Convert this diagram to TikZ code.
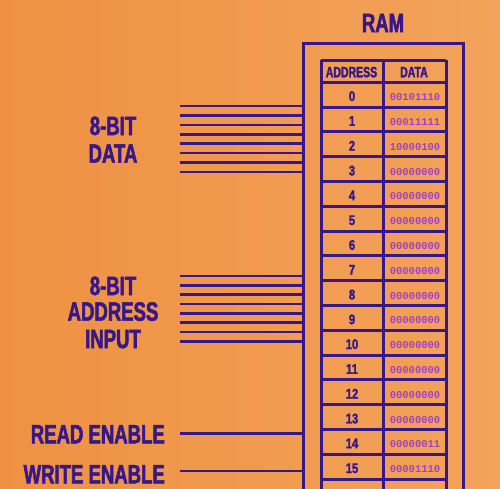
\documentclass[tikz,border=0pt]{standalone}
\usepackage{fontspec}
\setmainfont{Liberation Sans}
\newfontfamily\labelfont[FakeStretch=0.7,FakeBold=2]{Liberation Sans Bold}
\newfontfamily\numfont[FakeStretch=0.8,FakeBold=1.6]{Liberation Sans Bold}
\newfontfamily\bitfont{Liberation Mono Bold}
\definecolor{ink}{HTML}{36188A}
\definecolor{bits}{HTML}{A23FCB}
\definecolor{bgL}{HTML}{EE9142}
\definecolor{bgR}{HTML}{F3A35B}
\begin{document}
\begin{tikzpicture}[x=1pt,y=-1pt,
  big/.style={font=\labelfont\fontsize{26.5}{27}\selectfont, text=ink, inner sep=0pt, anchor=base},
  head/.style={font=\labelfont\fontsize{15}{16}\selectfont, text=ink, inner sep=0pt, anchor=base},
  num/.style={font=\numfont\fontsize{14}{15}\selectfont, text=ink, inner sep=0pt, anchor=base},
  val/.style={font=\bitfont\fontsize{10.5}{11}\selectfont, text=bits, inner sep=0pt, anchor=base},
  box/.style={draw=ink, line width=3.2pt},
  tab/.style={draw=ink, line width=3pt},
  sig/.style={draw=ink, line width=2.6pt}]
\useasboundingbox (0,0) rectangle (500,488);
\clip (0,0) rectangle (500,488);
\shade[left color=bgL,right color=bgR] (0,0) rectangle (500,488);
% title
\node[big] (title) at (383,32) {RAM};
% outer RAM box
\coordinate (ramL) at (303.5,43.5);
\coordinate (ramR) at (463.5,43.5);
\draw[box] (303.5,495) -- (ramL) -- (ramR) -- (463.5,495);
% table
\draw[tab] (321,60) -- (446,60);
\foreach \k in {0,...,16} {
  \draw[tab] (321,{82.3+24.8*\k}) -- (446,{82.3+24.8*\k});
}
\foreach \x in {321,383.5,446} {
  \draw[tab] (\x,60) -- (\x,495);
}
\node[head] (hA) at (351.5,77.3) {ADDRESS};
\node[head] (hD) at (414,77.3) {DATA};
\foreach \k/\v in {0/00101110,1/00011111,2/10000100,3/00000000,4/00000000,5/00000000,6/00000000,7/00000000,8/00000000,9/00000000,10/00000000,11/00000000,12/00000000,13/00000000,14/00000011,15/00001110} {
  \node[num] (a\k) at (352,{82.3+24.8*\k+18.7}) {\k};
  \node[val] (d\k) at (415,{82.3+24.8*\k+18.3}) {\v};
}
% data lines
\foreach \i in {0,...,7} {
  \coordinate (dl\i) at (180,{106+9.4*\i});
  \draw[sig] (dl\i) -- (dl\i -| ramL);
  \coordinate (al\i) at (180,{276+9.33*\i});
  \draw[sig] (al\i) -- (al\i -| ramL);
}
\coordinate (re) at (180,433.3);
\coordinate (we) at (180,471);
\draw[sig] (re) -- (re -| ramL);
\draw[sig] (we) -- (we -| ramL);
% labels
\node[big] (data1) at (113,135) {8-BIT};
\node[big] (data2) at (113,162.7) {DATA};
\node[big] (addr1) at (113,295) {8-BIT};
\node[big] (addr2) at (113,320.7) {ADDRESS};
\node[big] (addr3) at (113,348) {INPUT};
\node[big, anchor=base east] (rd) at (165,443.3) {READ ENABLE};
\node[big, anchor=base east] (wr) at (165,483.3) {WRITE ENABLE};
\end{tikzpicture}
\end{document}
